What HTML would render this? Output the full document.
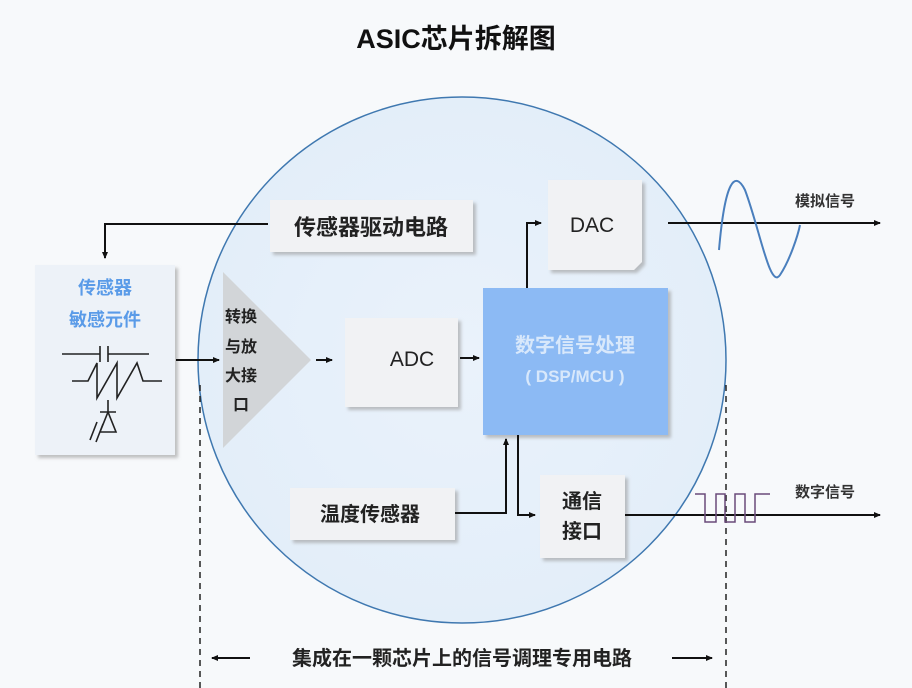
<!DOCTYPE html>
<html><head><meta charset="utf-8"><style>
body{margin:0;background:#f7f9fb}
svg{display:block}
text{font-family:"Liberation Sans","Noto Sans CJK SC",sans-serif;font-weight:bold}
text.n{font-weight:normal}
</style></head><body>
<svg width="912" height="688" viewBox="0 0 912 688" xmlns="http://www.w3.org/2000/svg">
<defs>
<marker id="a" markerWidth="8" markerHeight="8" refX="6" refY="4" orient="auto" markerUnits="userSpaceOnUse"><path d="M0,1 L7,4 L0,7 Z" fill="#111"/></marker>
<radialGradient id="g" cx="0.5" cy="0.5" r="0.5"><stop offset="0" stop-color="#eaf2fb"/><stop offset="1" stop-color="#e3eef9"/></radialGradient>
<filter id="s" x="-10%" y="-10%" width="130%" height="130%"><feDropShadow dx="3" dy="3" stdDeviation="1.5" flood-color="#999" flood-opacity="0.6"/></filter>
</defs>
<rect width="912" height="688" fill="#f7f9fb"/>
<text x="456" y="48" font-size="27" text-anchor="middle" fill="#111">ASIC芯片拆解图</text>
<ellipse cx="462" cy="360" rx="264" ry="263" fill="url(#g)" stroke="#3f78b0" stroke-width="1.5"/>
<line x1="200" y1="385" x2="200" y2="688" stroke="#222" stroke-width="1.5" stroke-dasharray="6,5"/>
<line x1="726" y1="385" x2="726" y2="688" stroke="#222" stroke-width="1.5" stroke-dasharray="6,5"/>
<rect x="270" y="200" width="203" height="52" fill="#f1f2f4" filter="url(#s)"/>
<text x="371" y="235" font-size="22" text-anchor="middle" fill="#222">传感器驱动电路</text>
<rect x="35" y="265" width="140" height="190" fill="#edf2f8" filter="url(#s)"/>
<text x="105" y="294" font-size="18" text-anchor="middle" fill="#5a9be8">传感器</text>
<text x="105" y="326" font-size="18" text-anchor="middle" fill="#5a9be8">敏感元件</text>
<g stroke="#222" stroke-width="1.6" fill="none">
<path d="M62,354 H100 M100,346 V362 M108,346 V362 M108,354 H149"/>
<path d="M72,381 H88 L97,363 L97,398 L117,363 L117,398 L137,363 L143,381 H162"/>
<path d="M108,400 V412 M100,412 H116 M108,412 L100,432 H116 Z M97,422 L90,440 M103,424 L96,442"/>
</g>
<polygon points="223,272 311,360 223,448" fill="#d2d5d8"/>
<text x="241" y="322" font-size="16" text-anchor="middle" fill="#222">转换</text>
<text x="241" y="352" font-size="16" text-anchor="middle" fill="#222">与放</text>
<text x="241" y="381" font-size="16" text-anchor="middle" fill="#222">大接</text>
<text x="241" y="410" font-size="16" text-anchor="middle" fill="#222">口</text>
<rect x="345" y="318" width="113" height="89" fill="#f1f2f4" filter="url(#s)"/>
<text class="n" x="412" y="366" font-size="21" text-anchor="middle" fill="#222">ADC</text>
<rect x="483" y="288" width="185" height="147" fill="#8cbaf4" filter="url(#s)"/>
<text x="575" y="352" font-size="20" text-anchor="middle" fill="#d8e8fb">数字信号处理</text>
<text x="575" y="382" font-size="17" text-anchor="middle" fill="#d8e8fb">( DSP/MCU )</text>
<path d="M548,180 H642 V262 L634,270 H548 Z" fill="#f1f2f4" filter="url(#s)"/>
<text class="n" x="592" y="232" font-size="21" text-anchor="middle" fill="#222">DAC</text>
<rect x="290" y="488" width="165" height="52" fill="#f1f2f4" filter="url(#s)"/>
<text x="370" y="521" font-size="20" text-anchor="middle" fill="#222">温度传感器</text>
<rect x="540" y="475" width="85" height="83" fill="#f1f2f4" filter="url(#s)"/>
<text x="582" y="508" font-size="20" text-anchor="middle" fill="#222">通信</text>
<text x="582" y="538" font-size="20" text-anchor="middle" fill="#222">接口</text>
<g stroke="#111" stroke-width="2" fill="none">
<path d="M268,224 H105 V258" marker-end="url(#a)"/>
<path d="M176,360 H219" marker-end="url(#a)"/>
<path d="M316,360 H332" marker-end="url(#a)"/>
<path d="M460,358 H479" marker-end="url(#a)"/>
<path d="M527,288 V223 H541" marker-end="url(#a)"/>
<path d="M668,223 H880" marker-end="url(#a)"/>
<path d="M455,513 H506 V439" marker-end="url(#a)"/>
<path d="M518,435 V515 H535" marker-end="url(#a)"/>
<path d="M625,515 H880" marker-end="url(#a)"/>
</g>
<path d="M719,250 C725,180 735,170 745,190 C760,230 770,290 780,275 C790,260 798,235 800,225" stroke="#4a7fbd" stroke-width="2" fill="none"/>
<path d="M695,494 H705 V522 H716 V494 H725 V522 H735 V494 H745 V522 H755 V494 H770" stroke="#6a4a7a" stroke-width="1.5" fill="none"/>
<text x="795" y="206" font-size="15" fill="#333">模拟信号</text>
<text x="795" y="497" font-size="15" fill="#333">数字信号</text>
<g stroke="#111" stroke-width="2" fill="none">
<path d="M250,658 H212" marker-end="url(#a)"/>
<path d="M672,658 H712" marker-end="url(#a)"/>
</g>
<text x="462" y="665" font-size="20" text-anchor="middle" fill="#222">集成在一颗芯片上的信号调理专用电路</text>
</svg>
</body></html>
